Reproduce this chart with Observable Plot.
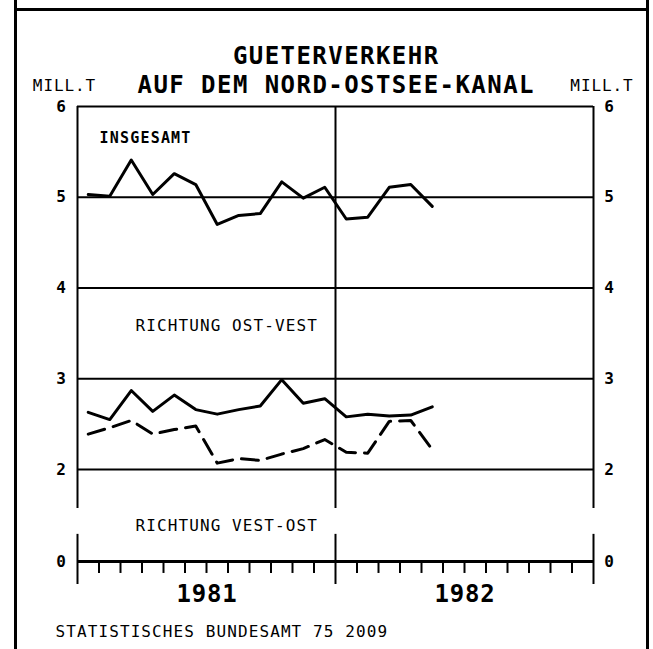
<!DOCTYPE html>
<html><head><meta charset="utf-8">
<script src="https://cdn.jsdelivr.net/npm/d3@7"></script>
<script src="https://cdn.jsdelivr.net/npm/@observablehq/plot@0.6"></script>
<style>
html,body{margin:0;padding:0;background:#fff;}
#wrap{position:relative;width:653px;height:649px;overflow:hidden;background:#fff;}
.fl{position:absolute;background:#000;}
#chart{position:absolute;left:0;top:0;}
</style></head><body>
<div id="wrap">
<div class="fl" style="left:14px;top:0;width:3px;height:649px"></div>
<div class="fl" style="left:646px;top:0;width:3px;height:649px"></div>
<div class="fl" style="left:14px;top:8px;width:635px;height:3px"></div>
<div id="chart"></div>
</div>
<script>
// ---- data ----
const months = ["1981-01","1981-02","1981-03","1981-04","1981-05","1981-06","1981-07","1981-08","1981-09","1981-10","1981-11","1981-12","1982-01","1982-02","1982-03","1982-04","1982-05"];
const insgesamt = [5.03,5.01,5.41,5.03,5.26,5.14,4.70,4.80,4.82,5.17,4.99,5.11,4.76,4.78,5.11,5.14,4.90];
const ostWest   = [2.63,2.55,2.87,2.64,2.82,2.66,2.61,2.66,2.70,2.99,2.73,2.78,2.58,2.61,2.59,2.60,2.69];
const westOst   = [2.39,2.46,2.54,2.39,2.44,2.48,2.07,2.12,2.10,2.17,2.23,2.33,2.19,2.18,2.53,2.54,2.22];
const yTicks = [0,2,3,4,5,6];
const gridLevels = [2,3,4,5,6];
const years = ["1981","1982"];
const titleLines = ["GUETERVERKEHR","AUF DEM NORD-OSTSEE-KANAL"];
const unitLabel = "MILL.T";
const seriesLabels = ["INSGESAMT","RICHTUNG OST-VEST","RICHTUNG VEST-OST"];
const caption = "STATISTISCHES BUNDESAMT 75 2009";

const data = months.map((m,i)=>({month:m, x:i+0.5, total:insgesamt[i], ow:ostWest[i], wo:westOst[i]}));
const monthTicks = d3.range(1,24).filter(d=>d!==12);

const F = "DejaVu Sans Mono";
const chart = Plot.plot({
  width:653, height:649,
  marginLeft:77, marginRight:60, marginTop:106, marginBottom:88,
  x:{type:"linear", domain:[0,24], range:[77,593], axis:null},
  y:{type:"linear", domain:[0,2,6], range:[561,469,106], axis:null},
  style:{fontFamily:F, color:"#000", background:"transparent", overflow:"visible"},
  marks:[
    Plot.ruleY(gridLevels, {x1:0, x2:24, stroke:"#000", strokeWidth:2}),
    Plot.ruleY([0], {x1:0, x2:24, stroke:"#000", strokeWidth:3}),
    Plot.ruleX([0,12,24], {y1:6, y2:1.15, stroke:"#000", strokeWidth:2}),
    Plot.ruleX([0,12,24], {y1:0.59, y2:-0.5, stroke:"#000", strokeWidth:2}),
    Plot.ruleX(monthTicks, {y1:0, y2:-0.26, stroke:"#000", strokeWidth:2}),
    Plot.line(data, {x:"x", y:"total", stroke:"#000", strokeWidth:3, strokeLinejoin:"round", strokeLinecap:"round"}),
    Plot.line(data, {x:"x", y:"ow", stroke:"#000", strokeWidth:3, strokeLinejoin:"round", strokeLinecap:"round"}),
    Plot.line(data, {x:"x", y:"wo", stroke:"#000", strokeWidth:3, strokeDasharray:"17,9", strokeLinejoin:"round"}),
    Plot.text(yTicks, {x:0, y:d=>d, text:d=>String(d), dx:-16.5, fontSize:16, fontWeight:"bold"}),
    Plot.text(yTicks, {x:24, y:d=>d, text:d=>String(d), dx:15.5, fontSize:16, fontWeight:"bold"}),
    Plot.text([unitLabel], {x:0, y:6, text:d=>d, dx:-13.5, dy:-21, fontSize:16}),
    Plot.text([unitLabel], {x:24, y:6, text:d=>d, dx:8, dy:-21, fontSize:16}),
    Plot.text([titleLines[0]], {frameAnchor:"top", lineAnchor:"middle", text:d=>d, dy:-50, fontSize:24, fontWeight:"bold"}),
    Plot.text([titleLines[1]], {frameAnchor:"top", lineAnchor:"middle", text:d=>d, dy:-21, fontSize:24, fontWeight:"bold"}),
    Plot.text([seriesLabels[0]], {x:0, y:6, text:d=>d, dx:22, dy:32, textAnchor:"start", fontSize:15, fontWeight:"bold"}),
    Plot.text([seriesLabels[1]], {x:0, y:4, text:d=>d, dx:58, dy:38, textAnchor:"start", fontSize:16}),
    Plot.text([seriesLabels[2]], {x:0, y:0, text:d=>d, dx:58, dy:-36, textAnchor:"start", fontSize:16}),
    Plot.text(years, {x:(d,i)=>6+12*i, y:0, text:d=>d, dy:32.5, fontSize:24, fontWeight:"bold"}),
    Plot.text([caption], {x:0, y:0, text:d=>d, dx:-22, dy:70.5, textAnchor:"start", fontSize:16})
  ]
});
// letter spacing to match the plotter font's wide character cells
const spacing = new Map([
  [titleLines[0], 1.45], [titleLines[1], 1.45],
  [unitLabel, 0.9],
  [seriesLabels[0], 1.2], [seriesLabels[1], 1.1], [seriesLabels[2], 1.1],
  [caption, 1.1],
  [years[0], 0.8], [years[1], 0.8]
]);
d3.select(chart).selectAll("text").each(function(){
  const s = spacing.get(this.textContent);
  if (s !== undefined) {
    this.setAttribute("letter-spacing", s + "px");
    const ta = this.getAttribute("text-anchor") || (this.parentNode && this.parentNode.getAttribute("text-anchor"));
    if (ta === "middle" || ta === null) {
      const prev = parseFloat(this.getAttribute("dx") || 0);
      this.setAttribute("dx", prev + s / 2);
    }
  }
});
document.getElementById("chart").appendChild(chart);
</script>
</body></html>
